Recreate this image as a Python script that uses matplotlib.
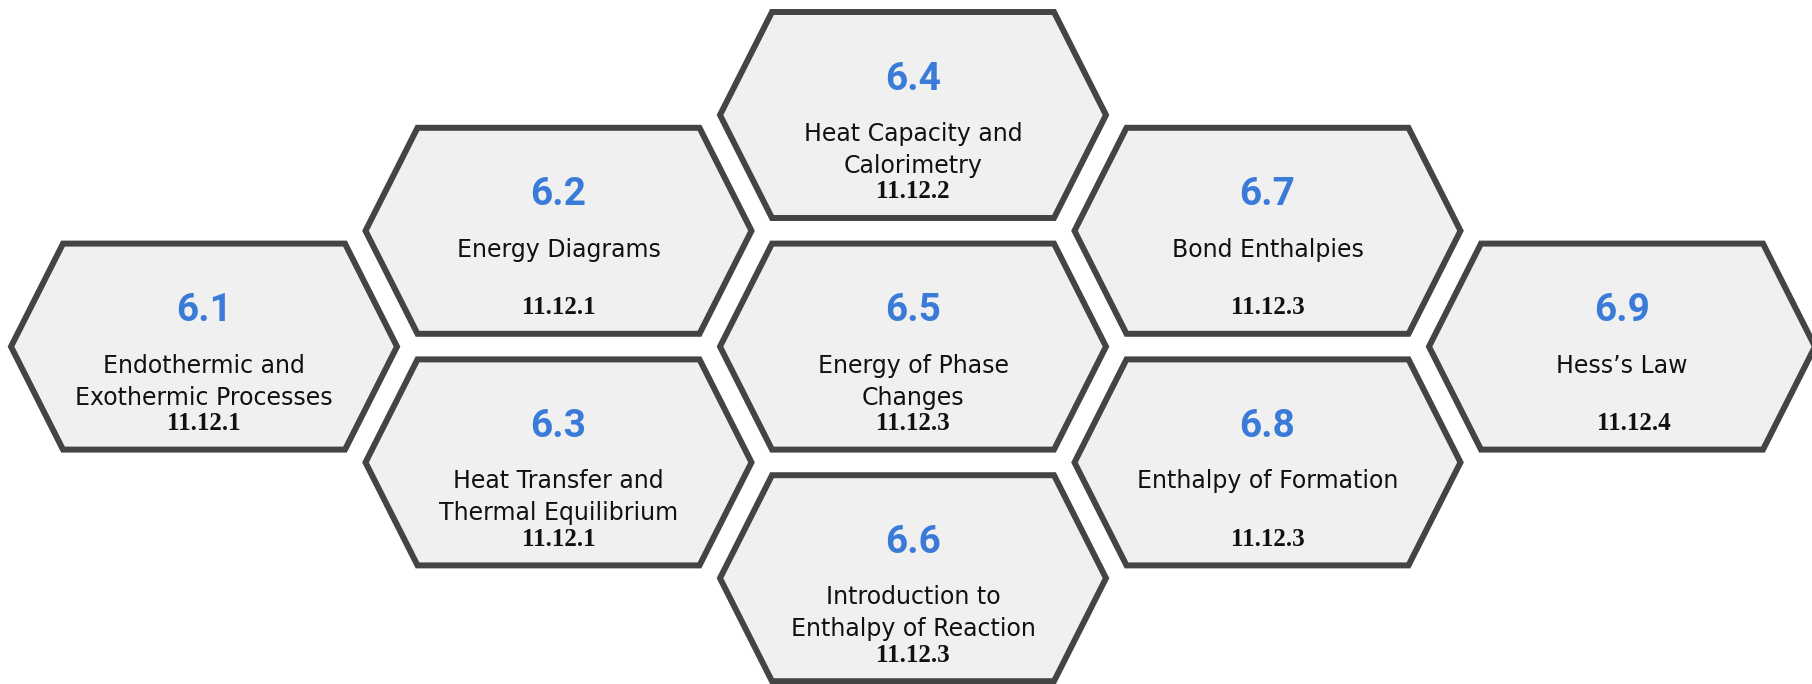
import matplotlib
matplotlib.use("Agg")
import matplotlib.pyplot as plt
from matplotlib.patches import Polygon

# ---- data ----
numbers = ["6.1", "6.2", "6.3", "6.4", "6.5", "6.6", "6.7", "6.8", "6.9"]
titles = [
    ["Endothermic and", "Exothermic Processes"],
    ["Energy Diagrams"],
    ["Heat Transfer and", "Thermal Equilibrium"],
    ["Heat Capacity and", "Calorimetry"],
    ["Energy of Phase", "Changes"],
    ["Introduction to", "Enthalpy of Reaction"],
    ["Bond Enthalpies"],
    ["Enthalpy of Formation"],
    ["Hess\u2019s Law"],
]
codes = ["11.12.1", "11.12.1", "11.12.1", "11.12.2", "11.12.3",
         "11.12.3", "11.12.3", "11.12.3", "11.12.4"]
# grid placement: column index, half-row index
cols = [0, 1, 1, 2, 2, 2, 3, 3, 4]
rows = [2, 1, 3, 0, 2, 4, 1, 3, 2]

# ---- layout (pixels) ----
W_PX, H_PX = 1812, 684
X0, DX = 204, 354.5
Y0, DY = 115, 115.8
HW, HH, TW = 193, 103, 141
code_dx = [0, 0, 0, 0, 0, 0, 0, 0, 12]

fig = plt.figure(figsize=(W_PX / 100, H_PX / 100), dpi=100)
ax = fig.add_axes([0, 0, 1, 1])
ax.set_xlim(0, W_PX)
ax.set_ylim(H_PX, 0)
ax.axis("off")

for i in range(len(numbers)):
    cx = X0 + cols[i] * DX
    cy = Y0 + rows[i] * DY
    verts = [(cx - HW, cy), (cx - TW, cy - HH), (cx + TW, cy - HH),
             (cx + HW, cy), (cx + TW, cy + HH), (cx - TW, cy + HH)]
    ax.add_patch(Polygon(verts, closed=True, facecolor="#f0f0f0",
                         edgecolor="#444444", linewidth=4.3, joinstyle="miter"))
    ax.text(cx, cy - 36, numbers[i], ha="center", va="center",
            fontsize=28, fontweight="bold", color="#3a7bd8", family="Roboto")
    for j, line in enumerate(titles[i]):
        ax.text(cx, cy + 19 + 32 * j, line, ha="center", va="center",
                fontsize=17, color="#111111", family="DejaVu Sans")
    ax.text(cx + code_dx[i], cy + 77, codes[i], ha="center", va="center",
            fontsize=18, fontweight="bold", color="#111111",
            family="Liberation Serif")

fig.savefig("out.png", dpi=100)
